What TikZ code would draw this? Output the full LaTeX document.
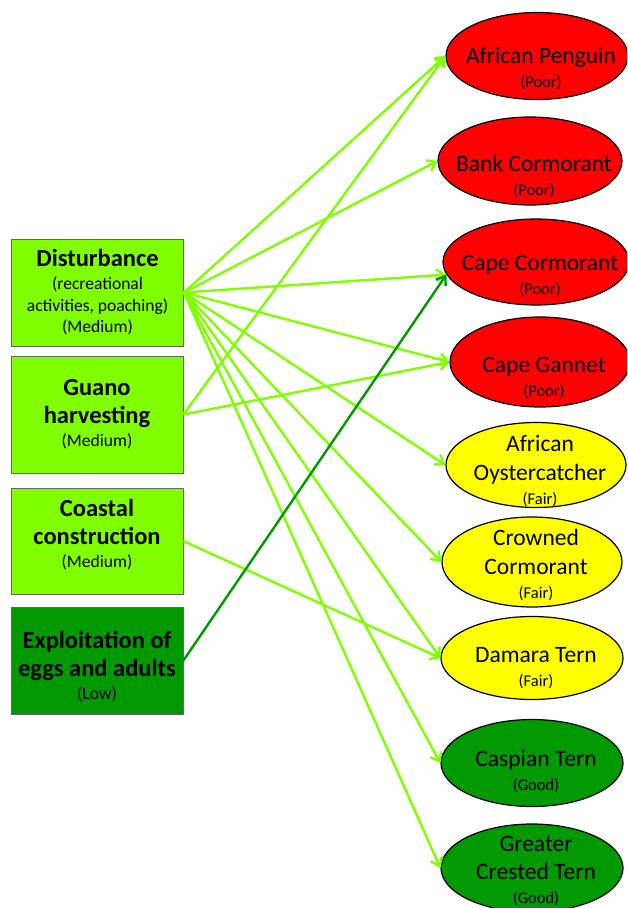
\documentclass[tikz,border=0pt]{standalone}
\usepackage{fontspec}
\setmainfont{Carlito}
\usetikzlibrary{shapes.geometric, arrows.meta}
\usepackage{xcolor}

\definecolor{lgreen}{RGB}{128,255,0}
\definecolor{dgreen}{RGB}{0,153,0}
\definecolor{poor}{RGB}{255,0,0}
\definecolor{fair}{RGB}{255,255,0}

% font sizes (the picture unit is 1pt)
\newcommand{\threatname}{\fontsize{24.5}{28.5}\selectfont\bfseries}
\newcommand{\birdname}{\fontsize{23.5}{28.5}\selectfont}

\begin{document}
\begin{tikzpicture}[x=1pt, y=-1pt,
    threat/.style={draw=black!60, line width=0.8pt, minimum width=172pt, inner sep=0pt},
    threattxt/.style={align=center, inner sep=0pt, font=\fontsize{17.5}{21.5}\selectfont},
    bird/.style={ellipse, draw=black, line width=1.2pt, inner sep=0pt},
    birdtxt/.style={align=center, inner sep=0pt, font=\fontsize{16.5}{24}\selectfont},
    link/.style={draw=lgreen, line width=2.4pt, -{Straight Barb[length=8pt,width=12pt]}}]
    % --- frame ---
    \useasboundingbox (0,0) rectangle (627,908);
    \clip (0,0) rectangle (627,908);

    % --- threats (left column) ---
    \node[threat, fill=lgreen, minimum height=107pt] (dist) at (97.5,292.5) {};
    \node[threattxt] (dist-t) at (97.5,292.5)
        {\threatname Disturbance\\[1.5pt](recreational\\activities, poaching)\\(Medium)};

    \node[threat, fill=lgreen, minimum height=117pt] (guano) at (97,414.5) {};
    \node[threattxt] (guano-t) at (97,414.5)
        {\threatname Guano\\[6.5pt]\threatname harvesting\\[1.5pt](Medium)};

    \node[threat, fill=lgreen, minimum height=106pt] (coast) at (97,541) {};
    \node[threattxt] (coast-t) at (97,534.5)
        {\threatname Coastal\\[6.5pt]\threatname construction\\[1.5pt](Medium)};

    \node[threat, fill=dgreen, minimum height=107pt] (expl) at (97,660.5) {};
    \node[threattxt] (expl-t) at (97,667)
        {\threatname Exploitation of\\[6.5pt]\threatname eggs and adults\\[1.5pt](Low)};

    % --- species (right column) ---
    \node[bird, fill=poor, minimum width=182pt, minimum height=87pt] (pen) at (537,56) {};
    \node[birdtxt] (pen-t) at (541,69) {\birdname African Penguin\\(Poor)};

    \node[bird, fill=poor, minimum width=184pt, minimum height=88pt] (bank) at (530,161) {};
    \node[birdtxt] (bank-t) at (534,176) {\birdname Bank Cormorant\\(Poor)};

    \node[bird, fill=poor, minimum width=186pt, minimum height=86pt] (capec) at (536,262) {};
    \node[birdtxt] (capec-t) at (540,276) {\birdname Cape Cormorant\\(Poor)};

    \node[bird, fill=poor, minimum width=180pt, minimum height=90pt] (gannet) at (540,362) {};
    \node[birdtxt] (gannet-t) at (544,378) {\birdname Cape Gannet\\(Poor)};

    \node[bird, fill=fair, minimum width=180pt, minimum height=85pt] (oyster) at (536,465) {};
    \node[birdtxt] (oyster-t) at (540,471) {\birdname African\\[4.5pt]\birdname Oystercatcher\\(Fair)};

    \node[bird, fill=fair, minimum width=180pt, minimum height=90pt] (crowned) at (532,562) {};
    \node[birdtxt] (crowned-t) at (536,565) {\birdname Crowned\\[4.5pt]\birdname Cormorant\\(Fair)};

    \node[bird, fill=fair, minimum width=182pt, minimum height=83pt] (damara) at (532,658) {};
    \node[birdtxt] (damara-t) at (536,668) {\birdname Damara Tern\\(Fair)};

    \node[bird, fill=dgreen, minimum width=182pt, minimum height=87pt] (caspian) at (532,763) {};
    \node[birdtxt] (caspian-t) at (536,772) {\birdname Caspian Tern\\(Good)};

    \node[bird, fill=dgreen, minimum width=182pt, minimum height=88pt] (crested) at (532,868) {};
    \node[birdtxt] (crested-t) at (536,871) {\birdname Greater\\[4.5pt]\birdname Crested Tern\\(Good)};

    % --- impacts ---
    \draw[link] (dist.east) -- (pen.west);
    \draw[link] (dist.east) -- (bank.west);
    \draw[link] (dist.east) -- (capec.188);
    \draw[link] (dist.east) -- (gannet.west);
    \draw[link] (dist.east) -- (oyster.west);
    \draw[link] (dist.east) -- (crowned.west);
    \draw[link] (dist.east) -- (damara.west);
    \draw[link] (dist.east) -- (caspian.west);
    \draw[link] (dist.east) -- (crested.west);
    \draw[link] (guano.east) -- (pen.west);
    \draw[link] (guano.east) -- (gannet.west);
    \draw[link] (coast.east) -- (damara.west);
    \draw[link, draw=dgreen] (expl.east) -- (capec.188);

\end{tikzpicture}
\end{document}
